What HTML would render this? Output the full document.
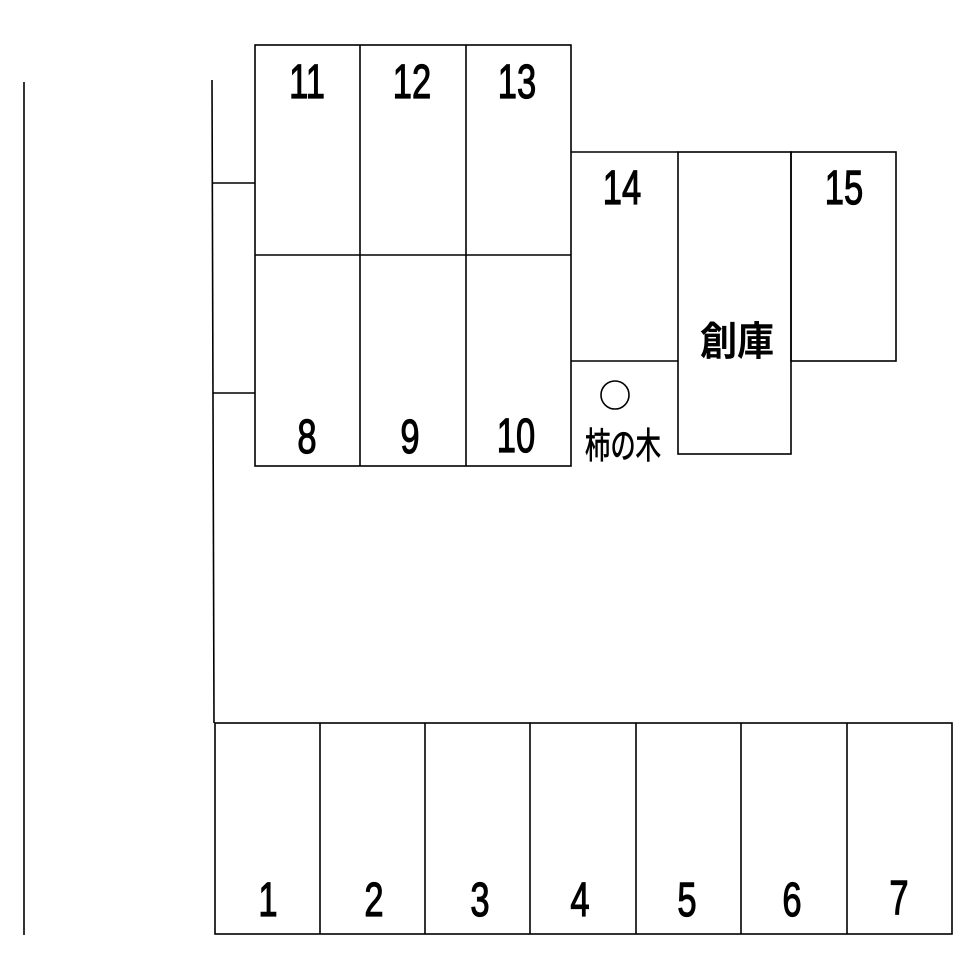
<!DOCTYPE html>
<html><head><meta charset="utf-8"><style>
html,body{margin:0;padding:0;background:#fff;}
svg{display:block;}
text{font-family:"Liberation Sans","Noto Sans CJK JP",sans-serif;fill:#000;}
</style></head><body>
<svg width="980" height="960" viewBox="0 0 980 960" xmlns="http://www.w3.org/2000/svg">
<g stroke="#000" stroke-width="1.6" fill="none">
<line x1="24" y1="82" x2="24" y2="935"/>
<line x1="212" y1="80" x2="214" y2="723"/>
<line x1="212" y1="183" x2="255" y2="183"/>
<line x1="213" y1="393" x2="255" y2="393"/>
<rect x="255" y="45" width="316" height="421"/>
<line x1="360" y1="45" x2="360" y2="466"/>
<line x1="466" y1="45" x2="466" y2="466"/>
<line x1="255" y1="255" x2="571" y2="255"/>
<line x1="571" y1="152" x2="678" y2="152"/>
<line x1="571" y1="361" x2="678" y2="361"/>
<rect x="678" y="152" width="113" height="302"/>
<rect x="791" y="152" width="105" height="209"/>
<circle cx="615" cy="395" r="14"/>
<rect x="215" y="723" width="737" height="211"/>
<line x1="320" y1="723" x2="320" y2="934"/>
<line x1="425" y1="723" x2="425" y2="934"/>
<line x1="530" y1="723" x2="530" y2="934"/>
<line x1="636" y1="723" x2="636" y2="934"/>
<line x1="741" y1="723" x2="741" y2="934"/>
<line x1="847" y1="723" x2="847" y2="934"/>
</g>
<g font-size="48" text-anchor="middle" stroke="#000" stroke-width="1.2">
<text transform="translate(307,98) scale(0.72,1)">11</text>
<text transform="translate(412,98) scale(0.72,1)">12</text>
<text transform="translate(517,98) scale(0.72,1)">13</text>
<text transform="translate(307,453) scale(0.72,1)">8</text>
<text transform="translate(410,453) scale(0.72,1)">9</text>
<text transform="translate(516,452) scale(0.72,1)">10</text>
<text transform="translate(622,204) scale(0.72,1)">14</text>
<text transform="translate(844,204) scale(0.72,1)">15</text>
<text transform="translate(268,916) scale(0.72,1)">1</text>
<text transform="translate(374,916) scale(0.72,1)">2</text>
<text transform="translate(480,916) scale(0.72,1)">3</text>
<text transform="translate(580,916) scale(0.72,1)">4</text>
<text transform="translate(687,916) scale(0.72,1)">5</text>
<text transform="translate(792,916) scale(0.72,1)">6</text>
<text transform="translate(899,914) scale(0.72,1)">7</text>
</g>
<text x="737" y="355" font-size="40" text-anchor="middle" textLength="74" lengthAdjust="spacingAndGlyphs" font-weight="bold">創庫</text>
<text x="623" y="458" font-size="36" text-anchor="middle" textLength="76" lengthAdjust="spacingAndGlyphs" stroke="#000" stroke-width="0.8">柿の木</text>
</svg>
</body></html>
